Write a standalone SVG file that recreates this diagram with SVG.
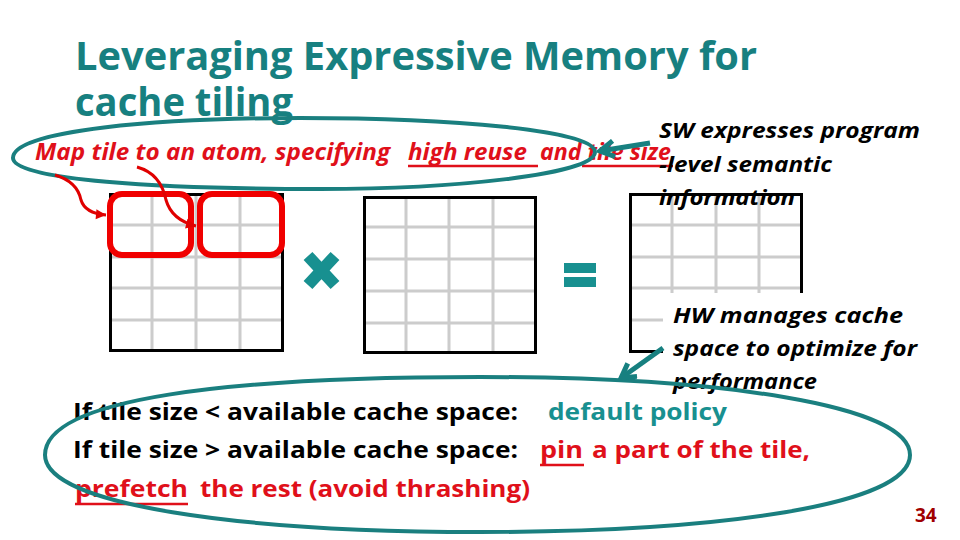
<svg xmlns="http://www.w3.org/2000/svg" width="960" height="540" viewBox="0 0 960 540">
<style>
.title{font-family:"Open Sans",Lato,"Liberation Sans",sans-serif;font-weight:bold;font-size:40px;fill:#178080}
.sub{font-family:"Open Sans",Lato,"Liberation Sans",sans-serif;font-weight:bold;font-style:italic;font-size:23px;fill:#e0101a}
.note{font-family:"Open Sans",Lato,"Liberation Sans",sans-serif;font-weight:bold;font-style:italic;font-size:21px;fill:#000}
.body{font-family:"Open Sans",Lato,"Liberation Sans",sans-serif;font-weight:bold;font-size:24px;fill:#000}
.red{fill:#e0101a}
.teal{fill:#189090}
.ul{stroke:#e0101a;stroke-width:2.5}
.grid{stroke:#cccccc;stroke-width:3;fill:none}
.border{stroke:#000;stroke-width:3;fill:none}
.tile{stroke:#f00000;stroke-width:6;fill:none}
.ring{stroke:#1a7f7f;stroke-width:4;fill:none}
.tarrow{stroke:#178080;stroke-width:5;fill:none}
.rarrow{stroke:#e00000;stroke-width:3;fill:none}
</style>
<defs>
<marker id="th" viewBox="0 0 20 20" refX="17" refY="10" markerWidth="20" markerHeight="20" markerUnits="userSpaceOnUse" orient="auto">
<path d="M3,2 L17,10 L3,18" stroke="#178080" stroke-width="5" fill="none"/>
</marker>
<marker id="rh" viewBox="0 0 12 12" refX="11" refY="6" markerWidth="12" markerHeight="12" markerUnits="userSpaceOnUse" orient="auto">
<path d="M1,1 L11,6 L1,11 Z" fill="#e00000"/>
</marker>
</defs>
<rect width="960" height="540" fill="#fff"/>

<g id="title">
<text class="title" x="75" y="70" textLength="682" lengthAdjust="spacingAndGlyphs">Leveraging Expressive Memory for</text>
<text class="title" x="75" y="116" textLength="218" lengthAdjust="spacingAndGlyphs">cache tiling</text>
</g>

<g id="subtitle">
<text class="sub" x="35" y="160" textLength="355" lengthAdjust="spacingAndGlyphs">Map tile to an atom, specifying</text>
<text class="sub" x="408" y="160" textLength="119" lengthAdjust="spacingAndGlyphs">high reuse</text>
<text class="sub" x="540" y="160" textLength="131" lengthAdjust="spacingAndGlyphs">and tile size</text>
<line class="ul" x1="408" y1="166" x2="538" y2="166"/>
<line class="ul" x1="582" y1="166" x2="673" y2="166"/>
</g>

<g id="grid-a">
<path class="grid" d="M152,195V350M196,195V350M240,195V350M111,225H282M111,257H282M111,288H282M111,320H282"/>
<rect class="border" x="110.5" y="194.5" width="172" height="156"/>
<rect class="tile" x="110" y="194" width="81" height="61" rx="12"/>
<rect class="tile" x="200" y="194" width="82" height="61" rx="12"/>
</g>

<g id="times">
<path d="M308,256L335,285M335,256L308,285" stroke="#189090" stroke-width="12"/>
</g>

<g id="grid-b">
<path class="grid" d="M406,198V352M449,198V352M493,198V352M365,227H535M365,259H535M365,291H535M365,323H535"/>
<rect class="border" x="364.5" y="197.5" width="171" height="155"/>
</g>

<g id="equals">
<rect x="564" y="263" width="32" height="10" fill="#189090"/>
<rect x="564" y="277" width="32" height="10" fill="#189090"/>
</g>

<g id="grid-c">
<path class="grid" d="M672,195V293M716,195V293M759,195V293M631,225H800M631,257H800M631,288H800M631,320H663"/>
<path class="border" d="M663,351.5H630.5V194.5H801.5V293"/>
</g>

<g id="sw-note">
<text class="note" x="659" y="138" textLength="261" lengthAdjust="spacingAndGlyphs">SW expresses program</text>
<text class="note" x="659" y="172" textLength="173" lengthAdjust="spacingAndGlyphs">-level semantic</text>
<text class="note" x="659" y="205" textLength="136" lengthAdjust="spacingAndGlyphs">information</text>
</g>

<g id="hw-note">
<text class="note" x="673" y="323" textLength="230" lengthAdjust="spacingAndGlyphs">HW manages  cache</text>
<text class="note" x="673" y="356" textLength="244" lengthAdjust="spacingAndGlyphs">space  to optimize for</text>
<text class="note" x="673" y="389" textLength="144" lengthAdjust="spacingAndGlyphs">performance</text>
</g>

<g id="policy">
<text class="body" x="73" y="420" textLength="445" lengthAdjust="spacingAndGlyphs">If tile size &lt; available cache space:</text>
<text class="body teal" x="548" y="420" textLength="179" lengthAdjust="spacingAndGlyphs">default policy</text>
<text class="body" x="73" y="458" textLength="445" lengthAdjust="spacingAndGlyphs">If tile size &gt; available cache space:</text>
<text class="body red" x="540" y="458" textLength="43" lengthAdjust="spacingAndGlyphs">pin</text>
<line class="ul" x1="540" y1="465" x2="584" y2="465"/>
<text class="body red" x="592" y="458" textLength="218" lengthAdjust="spacingAndGlyphs">a part of the tile,</text>
<text class="body red" x="75" y="497" textLength="113" lengthAdjust="spacingAndGlyphs">prefetch</text>
<line class="ul" x1="75" y1="504" x2="188" y2="504"/>
<text class="body red" x="200" y="497" textLength="330" lengthAdjust="spacingAndGlyphs">the rest (avoid thrashing)</text>
</g>

<g id="page-num">
<text x="915" y="522" font-family="'Open Sans',Lato,'Liberation Sans',sans-serif" font-weight="bold" font-size="19" fill="#a00000">34</text>
</g>

<g id="highlights">
<path class="ring" d="M13,158C13,130 160,118 300,118C450,118 595,130 595,152C595,175 450,189 320,189C160,189 13,180 13,158Z"/>
<path class="ring" d="M45,455C45,398 230,377 480,377C720,377 910,405 910,455C910,505 720,532 480,532C240,532 45,505 45,455Z"/>
</g>

<g id="connectors">
<path class="tarrow" d="M650,143L600,151" marker-end="url(#th)"/>
<path class="tarrow" d="M663,348L621,378" marker-end="url(#th)"/>
<path class="rarrow" d="M55,175C72,180 79,190 81,200C84,210 94,214 106,215" marker-end="url(#rh)"/>
<path class="rarrow" d="M137,167C155,172 163,185 166,200C170,214 180,222 196,226" marker-end="url(#rh)"/>
</g>
</svg>
